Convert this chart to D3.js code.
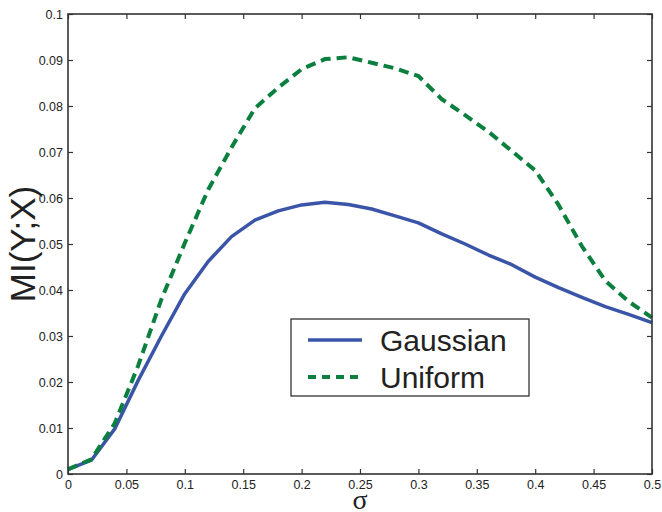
<!DOCTYPE html>
<html>
<head>
<meta charset="utf-8">
<script src="https://cdn.jsdelivr.net/npm/d3@7"></script>
<style>
  body { margin: 0; background: #fff; }
  text { font-family: "Liberation Sans", Arial, sans-serif; fill: #222; }
</style>
</head>
<body>
<div id="chart"></div>
<script>
// sigma grid and the two MI curves
var sigma = [0, 0.02, 0.04, 0.06, 0.08, 0.10, 0.12, 0.14, 0.16, 0.18, 0.20, 0.22, 0.24,
  0.26, 0.28, 0.30, 0.32, 0.34, 0.36, 0.38, 0.40, 0.42, 0.44, 0.46, 0.48, 0.50];
var gaussian = [0.001, 0.003, 0.0098, 0.0203, 0.0300, 0.0392, 0.0462, 0.0516, 0.0552, 0.0572,
  0.0585, 0.0591, 0.0586, 0.0576, 0.0561, 0.0546, 0.0522, 0.0500, 0.0476, 0.0455,
  0.0428, 0.0405, 0.0384, 0.0364, 0.0347, 0.0329];
var uniform = [0.001, 0.0032, 0.011, 0.0235, 0.0380, 0.0502, 0.0618, 0.0710, 0.0795, 0.0840,
  0.0880, 0.0902, 0.0906, 0.0894, 0.0882, 0.0865, 0.0815, 0.0780, 0.0744, 0.0702,
  0.0660, 0.0585, 0.0495, 0.0420, 0.0375, 0.0340];
var xTicks = [0, 0.05, 0.1, 0.15, 0.2, 0.25, 0.3, 0.35, 0.4, 0.45, 0.5];
var yTicks = [0, 0.01, 0.02, 0.03, 0.04, 0.05, 0.06, 0.07, 0.08, 0.09, 0.1];
var seriesNames = ['Gaussian', 'Uniform'];

var W = 662, H = 512;
var m = {left: 68, right: 10, top: 14, bottom: 38};

var svg = d3.select('#chart').append('svg')
  .attr('width', W).attr('height', H);

var x = d3.scaleLinear().domain([0, 0.5]).range([m.left, W - m.right]);
var y = d3.scaleLinear().domain([0, 0.1]).range([H - m.bottom, m.top]);

var axisColor = '#333';
var tickLen = 5;

// ticks on all four sides, pointing inward
function tickFmt(d) { return d === 0 ? '0' : String(+d.toFixed(2)); }

svg.append('g').attr('transform', 'translate(0,' + y(0) + ')')
  .call(d3.axisBottom(x).tickValues(xTicks).tickSize(-tickLen).tickPadding(6).tickFormat(tickFmt))
  .call(g => g.select('.domain').remove());
svg.append('g').attr('transform', 'translate(0,' + y(0.1) + ')')
  .call(d3.axisTop(x).tickValues(xTicks).tickSize(-tickLen).tickFormat(''))
  .call(g => g.select('.domain').remove());
svg.append('g').attr('transform', 'translate(' + x(0) + ',0)')
  .call(d3.axisLeft(y).tickValues(yTicks).tickSize(-tickLen).tickPadding(5).tickFormat(tickFmt))
  .call(g => g.select('.domain').remove());
svg.append('g').attr('transform', 'translate(' + x(0.5) + ',0)')
  .call(d3.axisRight(y).tickValues(yTicks).tickSize(-tickLen).tickFormat(''))
  .call(g => g.select('.domain').remove());

svg.selectAll('.tick line').attr('stroke', axisColor).attr('stroke-width', 1.2);
svg.selectAll('.tick text')
  .style('font-family', '"Liberation Sans", Arial, sans-serif')
  .style('font-size', '12.5px').attr('fill', '#222');

// lines
var line = d3.line().x((d, i) => x(sigma[i])).y(d => y(d));

svg.append('path').datum(gaussian)
  .attr('fill', 'none').attr('stroke', '#3a54a8').attr('stroke-width', 3.5)
  .attr('stroke-linejoin', 'round').attr('d', line);
svg.append('path').datum(uniform)
  .attr('fill', 'none').attr('stroke', '#0a7f3e').attr('stroke-width', 4)
  .attr('stroke-dasharray', '10,6').attr('d', line);

// plot frame
svg.append('rect')
  .attr('x', x(0)).attr('y', y(0.1))
  .attr('width', x(0.5) - x(0)).attr('height', y(0) - y(0.1))
  .attr('fill', 'none').attr('stroke', axisColor).attr('stroke-width', 1.6);

// axis titles
svg.append('text')
  .attr('transform', 'translate(35,' + ((y(0) + y(0.1)) / 2) + ') rotate(-90)')
  .attr('text-anchor', 'middle').style('font-size', '35px')
  .text('MI(Y;X)');
svg.append('text')
  .attr('x', (x(0) + x(0.5)) / 2).attr('y', 509)
  .attr('text-anchor', 'middle')
  .style('font-family', '"Liberation Serif", "Times New Roman", serif')
  .style('font-size', '28px')
  .text('σ');

// legend
var leg = svg.append('g');
leg.append('rect').attr('x', 291).attr('y', 319).attr('width', 238).attr('height', 77)
  .attr('fill', '#fff').attr('stroke', '#222').attr('stroke-width', 1.2);
var legStyles = [
  {color: '#3a54a8', dash: null, w: 3.5},
  {color: '#0a7f3e', dash: '8,6', w: 4}
];
seriesNames.forEach(function (name, i) {
  var cy = 340 + i * 37;
  leg.append('line').attr('x1', 308).attr('x2', 362).attr('y1', cy).attr('y2', cy)
    .attr('stroke', legStyles[i].color).attr('stroke-width', legStyles[i].w)
    .attr('stroke-dasharray', legStyles[i].dash);
  leg.append('text').attr('x', 380).attr('y', cy + 11)
    .style('font-size', '30px').text(name);
});
</script>
</body>
</html>
